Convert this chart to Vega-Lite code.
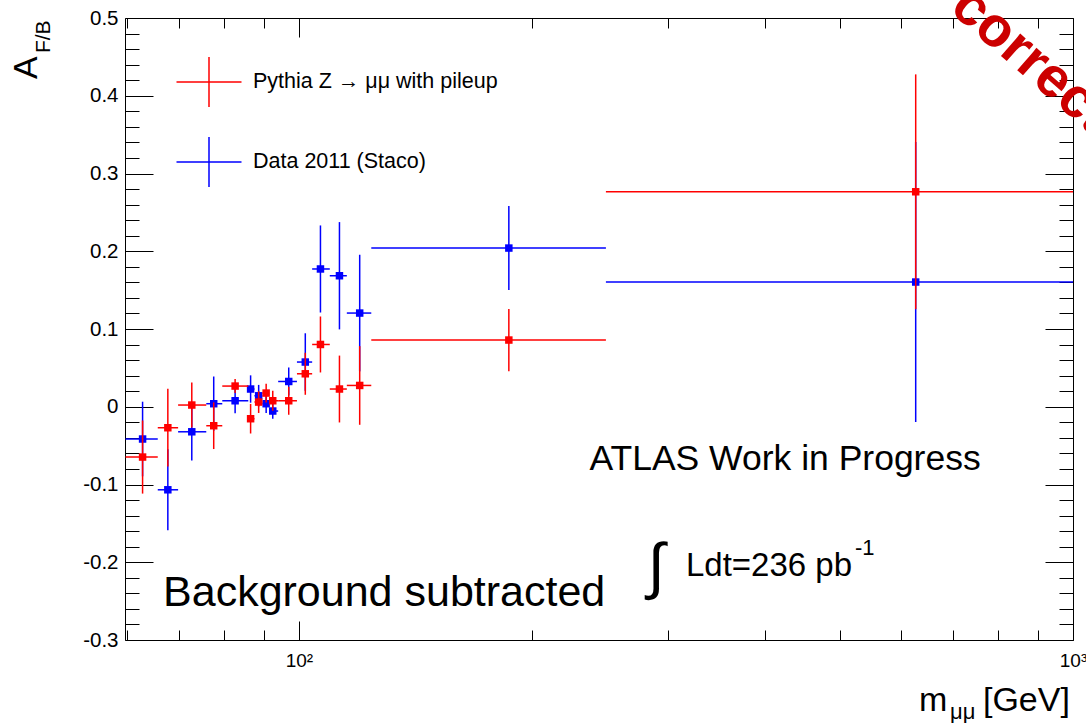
{
  "$schema": "https://vega.github.io/schema/vega-lite/v6.json",
  "width": 948,
  "height": 622,
  "autosize": "none",
  "padding": {"left": 125, "top": 18, "right": 13, "bottom": 83},
  "background": "white",
  "config": {
    "view": {"stroke": null},
    "font": "Liberation Sans",
    "axis": {"grid": false, "domainColor": "black", "tickColor": "black", "domainWidth": 1, "tickWidth": 1, "labelColor": "black", "labelFont": "Liberation Sans", "labelFlush": false, "labelOverlap": false, "labelBound": false}
  },
  "datasets": {
    "pts": [
      {"s": "Data 2011 (Staco)", "x": 62.8, "xlo": 59.7, "xhi": 65.7, "y": -0.0415, "ylo": -0.0895, "yhi": 0.0065},
      {"s": "Data 2011 (Staco)", "x": 67.7, "xlo": 65.7, "xhi": 69.8, "y": -0.1068, "ylo": -0.1588, "yhi": -0.0548},
      {"s": "Data 2011 (Staco)", "x": 72.7, "xlo": 69.8, "xhi": 75.9, "y": -0.0322, "ylo": -0.0692, "yhi": 0.0048},
      {"s": "Data 2011 (Staco)", "x": 77.6, "xlo": 75.9, "xhi": 79.6, "y": 0.0039, "ylo": -0.0311, "yhi": 0.0389},
      {"s": "Data 2011 (Staco)", "x": 82.7, "xlo": 79.6, "xhi": 86.0, "y": 0.0077, "ylo": -0.0083, "yhi": 0.0237},
      {"s": "Data 2011 (Staco)", "x": 86.6, "xlo": 85.8, "xhi": 87.6, "y": 0.0228, "ylo": 0.0052, "yhi": 0.0404},
      {"s": "Data 2011 (Staco)", "x": 88.7, "xlo": 87.6, "xhi": 89.7, "y": 0.0141, "ylo": 0.0001, "yhi": 0.0281},
      {"s": "Data 2011 (Staco)", "x": 90.7, "xlo": 89.7, "xhi": 91.5, "y": 0.0039, "ylo": -0.0081, "yhi": 0.0159},
      {"s": "Data 2011 (Staco)", "x": 92.5, "xlo": 91.5, "xhi": 94.0, "y": -0.0055, "ylo": -0.0155, "yhi": 0.0045},
      {"s": "Data 2011 (Staco)", "x": 97.0, "xlo": 94.0, "xhi": 99.4, "y": 0.0325, "ylo": 0.0145, "yhi": 0.0505},
      {"s": "Data 2011 (Staco)", "x": 101.9, "xlo": 99.4, "xhi": 104.0, "y": 0.0575, "ylo": 0.0205, "yhi": 0.0945},
      {"s": "Data 2011 (Staco)", "x": 106.6, "xlo": 104.0, "xhi": 109.6, "y": 0.1772, "ylo": 0.1212, "yhi": 0.2332},
      {"s": "Data 2011 (Staco)", "x": 112.8, "xlo": 109.6, "xhi": 115.3, "y": 0.1685, "ylo": 0.0995, "yhi": 0.2375},
      {"s": "Data 2011 (Staco)", "x": 119.8, "xlo": 115.3, "xhi": 124.0, "y": 0.1205, "ylo": 0.0455, "yhi": 0.1955},
      {"s": "Data 2011 (Staco)", "x": 186.7, "xlo": 124.0, "xhi": 249.2, "y": 0.2041, "ylo": 0.1501, "yhi": 0.2581},
      {"s": "Data 2011 (Staco)", "x": 626.3, "xlo": 249.2, "xhi": 1000, "y": 0.1604, "ylo": -0.0196, "yhi": 0.3404},
      {"s": "Pythia Z → μμ with pileup", "x": 62.8, "xlo": 59.7, "xhi": 65.7, "y": -0.0647, "ylo": -0.1117, "yhi": -0.0177},
      {"s": "Pythia Z → μμ with pileup", "x": 67.7, "xlo": 65.7, "xhi": 69.8, "y": -0.027, "ylo": -0.077, "yhi": 0.023},
      {"s": "Pythia Z → μμ with pileup", "x": 72.7, "xlo": 69.8, "xhi": 75.9, "y": 0.0022, "ylo": -0.0268, "yhi": 0.0312},
      {"s": "Pythia Z → μμ with pileup", "x": 77.6, "xlo": 75.9, "xhi": 79.6, "y": -0.0244, "ylo": -0.0544, "yhi": 0.0056},
      {"s": "Pythia Z → μμ with pileup", "x": 82.7, "xlo": 79.6, "xhi": 86.0, "y": 0.0266, "ylo": 0.0176, "yhi": 0.0356},
      {"s": "Pythia Z → μμ with pileup", "x": 86.6, "xlo": 85.8, "xhi": 87.6, "y": -0.0154, "ylo": -0.0344, "yhi": 0.0036},
      {"s": "Pythia Z → μμ with pileup", "x": 88.7, "xlo": 87.6, "xhi": 89.7, "y": 0.006, "ylo": -0.008, "yhi": 0.02},
      {"s": "Pythia Z → μμ with pileup", "x": 90.7, "xlo": 89.7, "xhi": 91.5, "y": 0.0176, "ylo": 0.0056, "yhi": 0.0296},
      {"s": "Pythia Z → μμ with pileup", "x": 92.5, "xlo": 91.5, "xhi": 94.0, "y": 0.0077, "ylo": -0.0053, "yhi": 0.0207},
      {"s": "Pythia Z → μμ with pileup", "x": 97.0, "xlo": 94.0, "xhi": 99.4, "y": 0.0077, "ylo": -0.0103, "yhi": 0.0257},
      {"s": "Pythia Z → μμ with pileup", "x": 101.9, "xlo": 99.4, "xhi": 104.0, "y": 0.0424, "ylo": 0.0154, "yhi": 0.0694},
      {"s": "Pythia Z → μμ with pileup", "x": 106.6, "xlo": 104.0, "xhi": 109.6, "y": 0.0801, "ylo": 0.0441, "yhi": 0.1161},
      {"s": "Pythia Z → μμ with pileup", "x": 112.8, "xlo": 109.6, "xhi": 115.3, "y": 0.0228, "ylo": -0.0202, "yhi": 0.0658},
      {"s": "Pythia Z → μμ with pileup", "x": 119.8, "xlo": 115.3, "xhi": 124.0, "y": 0.0274, "ylo": -0.0232, "yhi": 0.078},
      {"s": "Pythia Z → μμ with pileup", "x": 186.7, "xlo": 124.0, "xhi": 249.2, "y": 0.0858, "ylo": 0.0458, "yhi": 0.1258},
      {"s": "Pythia Z → μμ with pileup", "x": 626.3, "xlo": 249.2, "xhi": 1000, "y": 0.2765, "ylo": 0.1255, "yhi": 0.4275}
    ],
    "notes": [
      {"id": "atlas", "t": "ATLAS Work in Progress", "x": 424.6, "y": -0.0669},
      {"id": "int", "t": "∫", "x": 289.2, "y": -0.2071},
      {"id": "lumi", "t": "Ldt=236 pb", "x": 316.2, "y": -0.2045},
      {"id": "sup", "t": "-1", "x": 522.8, "y": -0.1814},
      {"id": "bkg", "t": "Background subtracted", "x": 66.74, "y": -0.2392},
      {"id": "yA", "t": "A", "x": 45.86, "y": 0.436},
      {"id": "ysub", "t": "F/B", "x": 47.7, "y": 0.4759},
      {"id": "xm", "t": "m", "x": 632.5, "y": -0.391},
      {"id": "xsub", "t": "μμ", "x": 693.7, "y": -0.4013},
      {"id": "xgev", "t": "[GeV]", "x": 765, "y": -0.391},
      {"id": "wm", "t": "Not correct", "x": 540.9, "y": 0.6014}
    ]
  },
  "layer": [
    {
      "data": {"name": "pts"},
      "mark": {"type": "point", "opacity": 0},
      "encoding": {
        "x": {"field": "x", "type": "quantitative", "scale": {"type": "log", "domain": [59.6, 1000], "nice": false},
          "axis": {"orient": "bottom", "values": [100, 1000], "tickSize": -19, "labelPadding": 30, "labelExpr": "datum.value < 500 ? '10²' : '10³'", "labelFontSize": 19, "title": null, "domain": true}},
        "y": {"field": "y", "type": "quantitative", "scale": {"domain": [-0.3, 0.5], "nice": false, "zero": false},
          "axis": {"orient": "left", "values": [-0.3, -0.2, -0.1, 0, 0.1, 0.2, 0.3, 0.4, 0.5], "tickSize": -28, "labelPadding": 35, "labelExpr": "toString(datum.value)", "labelFontSize": 20.5, "title": null, "domain": true}}
      }
    },
    {
      "data": {"name": "pts"},
      "mark": {"type": "point", "opacity": 0},
      "encoding": {
        "x": {"field": "x", "type": "quantitative", "scale": {"type": "log", "domain": [59.6, 1000], "nice": false},
          "axis": {"orient": "bottom", "values": [60, 70, 80, 90, 200, 300, 400, 500, 600, 700, 800, 900], "tickSize": -10, "labels": false, "title": null, "domain": false}},
        "y": {"field": "y", "type": "quantitative", "scale": {"domain": [-0.3, 0.5], "nice": false, "zero": false},
          "axis": {"orient": "left", "values": [-0.28, -0.26, -0.24, -0.22, -0.18, -0.16, -0.14, -0.12, -0.08, -0.06, -0.04, -0.02, 0.02, 0.04, 0.06, 0.08, 0.12, 0.14, 0.16, 0.18, 0.22, 0.24, 0.26, 0.28, 0.32, 0.34, 0.36, 0.38, 0.42, 0.44, 0.46, 0.48], "tickSize": -14, "labels": false, "title": null, "domain": false}}
      }
    },
    {
      "data": {"name": "pts"},
      "mark": {"type": "point", "opacity": 0},
      "encoding": {
        "x": {"field": "x", "type": "quantitative", "scale": {"type": "log", "domain": [59.6, 1000], "nice": false},
          "axis": {"orient": "top", "values": [100, 1000], "tickSize": -19, "labels": false, "title": null, "domain": true}},
        "y": {"field": "y", "type": "quantitative", "scale": {"domain": [-0.3, 0.5], "nice": false, "zero": false},
          "axis": {"orient": "right", "values": [-0.3, -0.2, -0.1, 0, 0.1, 0.2, 0.3, 0.4, 0.5], "tickSize": -28, "labels": false, "title": null, "domain": true}}
      }
    },
    {
      "data": {"name": "pts"},
      "mark": {"type": "point", "opacity": 0},
      "encoding": {
        "x": {"field": "x", "type": "quantitative", "scale": {"type": "log", "domain": [59.6, 1000], "nice": false},
          "axis": {"orient": "top", "values": [60, 70, 80, 90, 200, 300, 400, 500, 600, 700, 800, 900], "tickSize": -10, "labels": false, "title": null, "domain": false}},
        "y": {"field": "y", "type": "quantitative", "scale": {"domain": [-0.3, 0.5], "nice": false, "zero": false},
          "axis": {"orient": "right", "values": [-0.28, -0.26, -0.24, -0.22, -0.18, -0.16, -0.14, -0.12, -0.08, -0.06, -0.04, -0.02, 0.02, 0.04, 0.06, 0.08, 0.12, 0.14, 0.16, 0.18, 0.22, 0.24, 0.26, 0.28, 0.32, 0.34, 0.36, 0.38, 0.42, 0.44, 0.46, 0.48], "tickSize": -14, "labels": false, "title": null, "domain": false}}
      }
    },
    {
      "data": {"name": "pts"},
      "transform": [{"filter": "datum.s == 'Data 2011 (Staco)'"}],
      "mark": {"type": "rule", "strokeWidth": 1.5},
      "encoding": {
        "x": {"field": "x", "type": "quantitative", "scale": {"type": "log", "domain": [59.6, 1000], "nice": false}, "axis": null},
        "y": {"field": "ylo", "type": "quantitative", "scale": {"domain": [-0.3, 0.5], "nice": false, "zero": false}, "axis": null},
        "y2": {"field": "yhi"},
        "color": {"field": "s", "type": "nominal", "scale": {"domain": ["Pythia Z → μμ with pileup", "Data 2011 (Staco)"], "range": ["#ff0000", "#0000ff"]},
          "legend": {"orient": "none", "legendX": 58, "legendY": 38, "title": null, "padding": 0, "symbolType": "M-1.3,0H1.3M0,-1V1", "symbolSize": 2500, "symbolStrokeWidth": 1.5, "symbolFillColor": "transparent", "labelFontSize": 21.5, "labelFont": "Liberation Sans", "labelColor": "black", "labelOffset": 18, "rowPadding": 24, "labelLimit": 0,
            "encode": {"symbols": {"update": {"stroke": {"scale": "color", "field": "value"}, "fill": {"value": "transparent"}}}}}}
      }
    },
    {
      "data": {"name": "pts"},
      "transform": [{"filter": "datum.s == 'Data 2011 (Staco)'"}],
      "mark": {"type": "rule", "strokeWidth": 1.5},
      "encoding": {
        "x": {"field": "xlo", "type": "quantitative", "scale": {"type": "log", "domain": [59.6, 1000], "nice": false}, "axis": null},
        "x2": {"field": "xhi"},
        "y": {"field": "y", "type": "quantitative", "scale": {"domain": [-0.3, 0.5], "nice": false, "zero": false}, "axis": null},
        "color": {"field": "s", "type": "nominal"}
      }
    },
    {
      "data": {"name": "pts"},
      "transform": [{"filter": "datum.s == 'Data 2011 (Staco)'"}],
      "mark": {"type": "square", "filled": true, "size": 56, "opacity": 1},
      "encoding": {
        "x": {"field": "x", "type": "quantitative", "scale": {"type": "log", "domain": [59.6, 1000], "nice": false}, "axis": null},
        "y": {"field": "y", "type": "quantitative", "scale": {"domain": [-0.3, 0.5], "nice": false, "zero": false}, "axis": null},
        "color": {"field": "s", "type": "nominal"}
      }
    },
    {
      "data": {"name": "pts"},
      "transform": [{"filter": "datum.s != 'Data 2011 (Staco)'"}],
      "mark": {"type": "rule", "strokeWidth": 1.5},
      "encoding": {
        "x": {"field": "x", "type": "quantitative", "scale": {"type": "log", "domain": [59.6, 1000], "nice": false}, "axis": null},
        "y": {"field": "ylo", "type": "quantitative", "scale": {"domain": [-0.3, 0.5], "nice": false, "zero": false}, "axis": null},
        "y2": {"field": "yhi"},
        "color": {"field": "s", "type": "nominal"}
      }
    },
    {
      "data": {"name": "pts"},
      "transform": [{"filter": "datum.s != 'Data 2011 (Staco)'"}],
      "mark": {"type": "rule", "strokeWidth": 1.5},
      "encoding": {
        "x": {"field": "xlo", "type": "quantitative", "scale": {"type": "log", "domain": [59.6, 1000], "nice": false}, "axis": null},
        "x2": {"field": "xhi"},
        "y": {"field": "y", "type": "quantitative", "scale": {"domain": [-0.3, 0.5], "nice": false, "zero": false}, "axis": null},
        "color": {"field": "s", "type": "nominal"}
      }
    },
    {
      "data": {"name": "pts"},
      "transform": [{"filter": "datum.s != 'Data 2011 (Staco)'"}],
      "mark": {"type": "square", "filled": true, "size": 56, "opacity": 1},
      "encoding": {
        "x": {"field": "x", "type": "quantitative", "scale": {"type": "log", "domain": [59.6, 1000], "nice": false}, "axis": null},
        "y": {"field": "y", "type": "quantitative", "scale": {"domain": [-0.3, 0.5], "nice": false, "zero": false}, "axis": null},
        "color": {"field": "s", "type": "nominal"}
      }
    },
    {
      "data": {"name": "notes"},
      "transform": [{"filter": "datum.id == 'atlas'"}],
      "mark": {"type": "text", "font": "Liberation Sans", "fontSize": 35.5, "align": "center", "baseline": "middle", "color": "black"},
      "encoding": {"x": {"field": "x", "type": "quantitative", "axis": null}, "y": {"field": "y", "type": "quantitative", "axis": null}, "text": {"field": "t"}}
    },
    {
      "data": {"name": "notes"},
      "transform": [{"filter": "datum.id == 'int'"}],
      "mark": {"type": "text", "font": "Liberation Sans", "fontSize": 62, "align": "center", "baseline": "middle", "color": "black"},
      "encoding": {"x": {"field": "x", "type": "quantitative", "axis": null}, "y": {"field": "y", "type": "quantitative", "axis": null}, "text": {"field": "t"}}
    },
    {
      "data": {"name": "notes"},
      "transform": [{"filter": "datum.id == 'lumi'"}],
      "mark": {"type": "text", "font": "Liberation Sans", "fontSize": 33, "align": "left", "baseline": "middle", "color": "black"},
      "encoding": {"x": {"field": "x", "type": "quantitative", "axis": null}, "y": {"field": "y", "type": "quantitative", "axis": null}, "text": {"field": "t"}}
    },
    {
      "data": {"name": "notes"},
      "transform": [{"filter": "datum.id == 'sup'"}],
      "mark": {"type": "text", "font": "Liberation Sans", "fontSize": 22, "align": "left", "baseline": "middle", "color": "black"},
      "encoding": {"x": {"field": "x", "type": "quantitative", "axis": null}, "y": {"field": "y", "type": "quantitative", "axis": null}, "text": {"field": "t"}}
    },
    {
      "data": {"name": "notes"},
      "transform": [{"filter": "datum.id == 'bkg'"}],
      "mark": {"type": "text", "font": "Liberation Sans", "fontSize": 43, "align": "left", "baseline": "middle", "color": "black"},
      "encoding": {"x": {"field": "x", "type": "quantitative", "axis": null}, "y": {"field": "y", "type": "quantitative", "axis": null}, "text": {"field": "t"}}
    },
    {
      "data": {"name": "notes"},
      "transform": [{"filter": "datum.id == 'yA'"}],
      "mark": {"type": "text", "font": "Liberation Sans", "fontSize": 34, "align": "center", "baseline": "alphabetic", "angle": 270, "color": "black"},
      "encoding": {"x": {"field": "x", "type": "quantitative", "axis": null}, "y": {"field": "y", "type": "quantitative", "axis": null}, "text": {"field": "t"}}
    },
    {
      "data": {"name": "notes"},
      "transform": [{"filter": "datum.id == 'ysub'"}],
      "mark": {"type": "text", "font": "Liberation Sans", "fontSize": 21, "align": "center", "baseline": "alphabetic", "angle": 270, "color": "black"},
      "encoding": {"x": {"field": "x", "type": "quantitative", "axis": null}, "y": {"field": "y", "type": "quantitative", "axis": null}, "text": {"field": "t"}}
    },
    {
      "data": {"name": "notes"},
      "transform": [{"filter": "datum.id == 'xm' || datum.id == 'xgev'"}],
      "mark": {"type": "text", "font": "Liberation Sans", "fontSize": 34, "align": "left", "baseline": "alphabetic", "color": "black"},
      "encoding": {"x": {"field": "x", "type": "quantitative", "axis": null}, "y": {"field": "y", "type": "quantitative", "axis": null}, "text": {"field": "t"}}
    },
    {
      "data": {"name": "notes"},
      "transform": [{"filter": "datum.id == 'xsub'"}],
      "mark": {"type": "text", "font": "Liberation Sans", "fontSize": 22, "align": "left", "baseline": "alphabetic", "color": "black"},
      "encoding": {"x": {"field": "x", "type": "quantitative", "axis": null}, "y": {"field": "y", "type": "quantitative", "axis": null}, "text": {"field": "t"}}
    },
    {
      "data": {"name": "notes"},
      "transform": [{"filter": "datum.id == 'wm'"}],
      "mark": {"type": "text", "font": "Liberation Sans", "fontSize": 56, "fontWeight": "bold", "align": "left", "baseline": "alphabetic", "angle": 41, "color": "#cc0000"},
      "encoding": {"x": {"field": "x", "type": "quantitative", "axis": null}, "y": {"field": "y", "type": "quantitative", "axis": null}, "text": {"field": "t"}}
    }
  ],
  "resolve": {"axis": {"x": "independent", "y": "independent"}}
}
